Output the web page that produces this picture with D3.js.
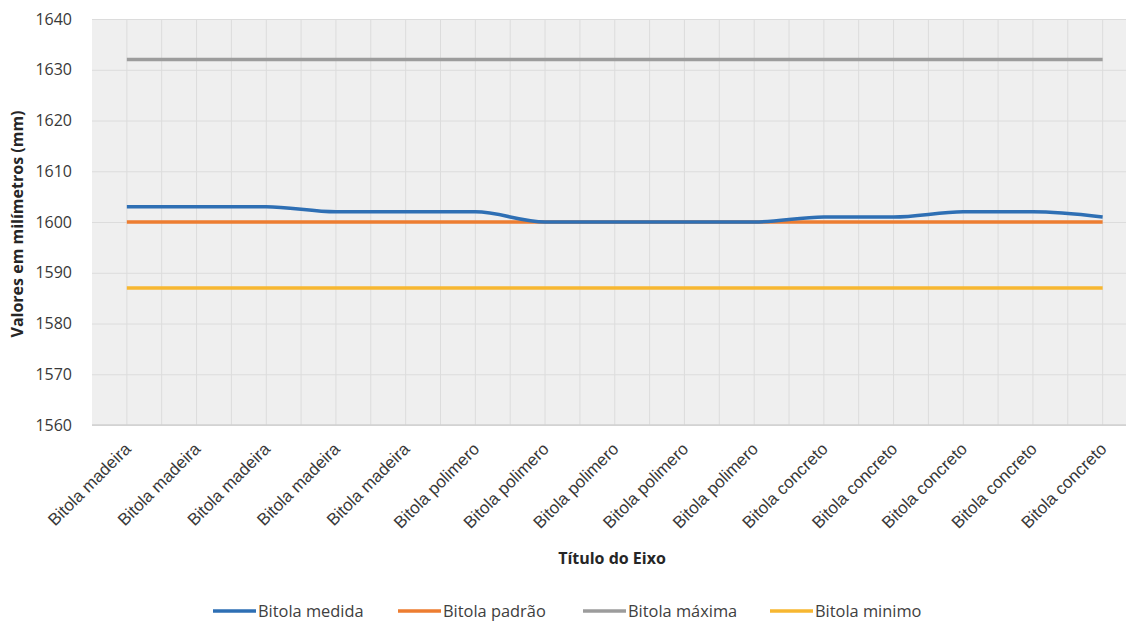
<!DOCTYPE html>
<html>
<head>
<meta charset="utf-8">
<script src="https://cdn.jsdelivr.net/npm/d3@7"></script>
<style>
  html, body { margin: 0; padding: 0; background: #fff; }
  svg { display: block; font-family: "Open Sans", "Noto Sans", sans-serif; }
</style>
</head>
<body>
<svg id="chart" width="1126" height="622"></svg>
<script>
// Categories along the x axis
const categories = [
  "Bitola madeira", "Bitola madeira", "Bitola madeira", "Bitola madeira", "Bitola madeira",
  "Bitola polimero", "Bitola polimero", "Bitola polimero", "Bitola polimero", "Bitola polimero",
  "Bitola concreto", "Bitola concreto", "Bitola concreto", "Bitola concreto", "Bitola concreto"
];

// Series values (mm)
const bitolaMedida = [1603, 1603, 1603, 1602, 1602, 1602, 1600, 1600, 1600, 1600, 1601, 1601, 1602, 1602, 1601];
const bitolaPadrao = [1600, 1600, 1600, 1600, 1600, 1600, 1600, 1600, 1600, 1600, 1600, 1600, 1600, 1600, 1600];
const bitolaMaxima = [1632, 1632, 1632, 1632, 1632, 1632, 1632, 1632, 1632, 1632, 1632, 1632, 1632, 1632, 1632];
const bitolaMinimo = [1587, 1587, 1587, 1587, 1587, 1587, 1587, 1587, 1587, 1587, 1587, 1587, 1587, 1587, 1587];

// Y axis ticks
const yTicks = [1560, 1570, 1580, 1590, 1600, 1610, 1620, 1630, 1640];

const seriesNames = ["Bitola medida", "Bitola padrão", "Bitola máxima", "Bitola minimo"];
const seriesColors = ["#2e6fb4", "#ed7d31", "#9c9c9c", "#f7b731"];

const series = [bitolaMedida, bitolaPadrao, bitolaMaxima, bitolaMinimo].map((vals, k) => ({
  name: seriesNames[k],
  color: seriesColors[k],
  values: vals
}));

const svg = d3.select("#chart");
const margin = { left: 92, top: 19 };
const plotW = 1045.5, plotH = 406;

const x = d3.scaleBand()
  .domain(d3.range(categories.length))
  .range([margin.left, margin.left + plotW])
  .paddingInner(0).paddingOuter(0);

const y = d3.scaleLinear()
  .domain([1560, 1640])
  .range([margin.top + plotH, margin.top]);

const cx = i => x(i) + x.bandwidth() / 2;

// Plot background
svg.append("rect")
  .attr("x", margin.left).attr("y", margin.top)
  .attr("width", plotW).attr("height", plotH)
  .attr("fill", "#efefef");

// Vertical gridlines: category boundaries and category centres
const g = svg.append("g");
const vLines = [];
for (let i = 0; i < categories.length; i++) {
  vLines.push(x(i));
  vLines.push(cx(i));
}
g.selectAll(".vgrid").data(vLines.filter(v => v > margin.left)).join("line")
  .attr("x1", d => d).attr("x2", d => d)
  .attr("y1", margin.top).attr("y2", margin.top + plotH)
  .attr("stroke", "#dcdcdc").attr("stroke-width", 1);

// Horizontal gridlines
const yAxis = d3.axisLeft(y).tickValues(yTicks).tickSize(-plotW).tickPadding(20).tickFormat(d3.format("d"));
const ya = svg.append("g").attr("transform", `translate(${margin.left},0)`).call(yAxis);
ya.select(".domain").remove();
ya.selectAll(".tick line").attr("stroke", "#dcdcdc").attr("stroke-width", 1);
ya.selectAll(".tick text")
  .attr("font-size", 16).attr("fill", "#383838")
  .attr("font-family", "'Open Sans', sans-serif");

// Bottom axis line
svg.append("line")
  .attr("x1", margin.left).attr("x2", margin.left + plotW)
  .attr("y1", y(1560)).attr("y2", y(1560))
  .attr("stroke", "#d0d0d0").attr("stroke-width", 1.5);

// Category labels, rotated
const xAxis = d3.axisBottom(x).tickFormat(i => categories[i]).tickSize(0).tickPadding(0);
const xa = svg.append("g").attr("transform", `translate(0,${y(1560)})`).call(xAxis);
xa.select(".domain").remove();
xa.selectAll(".tick text")
  .attr("font-size", 17).attr("fill", "#383838")
  .attr("text-anchor", "end")
  .attr("dy", null)
  .attr("transform", "translate(5,25) rotate(-45)");

// Series lines
const line = d3.line()
  .x((d, i) => cx(i))
  .y(d => y(d))
  .curve(d3.curveMonotoneX);

svg.append("g").selectAll("path").data(series.slice().reverse()).join("path")
  .attr("d", d => line(d.values))
  .attr("fill", "none")
  .attr("stroke", d => d.color)
  .attr("stroke-width", 3.5)
  .attr("stroke-linejoin", "round");

// Axis titles
svg.append("text")
  .attr("transform", `translate(23,${margin.top + plotH / 2 + 2}) rotate(-90)`)
  .attr("text-anchor", "middle")
  .attr("font-size", 16).attr("font-weight", "bold").attr("fill", "#262626")
  .text("Valores em milímetros (mm)");

svg.append("text")
  .attr("x", 612).attr("y", 564)
  .attr("text-anchor", "middle")
  .attr("font-size", 16).attr("font-weight", "bold").attr("fill", "#262626")
  .text("Título do Eixo");

// Legend
const legendX = [213, 398, 583, 770];
const leg = svg.append("g").selectAll("g").data(series).join("g")
  .attr("transform", (d, i) => `translate(${legendX[i]},611)`);
leg.append("line")
  .attr("x1", 0).attr("x2", 43).attr("y1", 0).attr("y2", 0)
  .attr("stroke", d => d.color).attr("stroke-width", 3.5);
leg.append("text")
  .attr("x", 45).attr("y", 6)
  .attr("font-size", 16.4).attr("fill", "#404040")
  .text(d => d.name);
</script>
</body>
</html>
